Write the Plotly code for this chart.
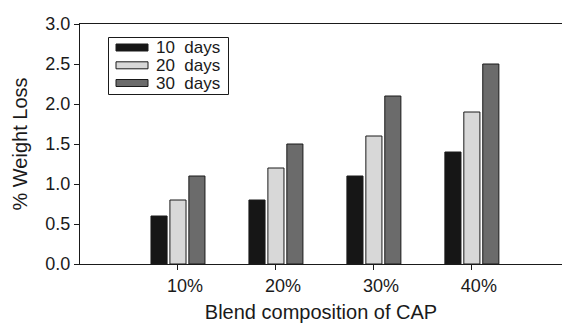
import plotly.graph_objects as go

categories = ["10%", "20%", "30%", "40%"]
series_names = ["10  days", "20  days", "30  days"]
days10 = [0.6, 0.8, 1.1, 1.4]
days20 = [0.8, 1.2, 1.6, 1.9]
days30 = [1.1, 1.5, 2.1, 2.5]
y_ticks = [0.0, 0.5, 1.0, 1.5, 2.0, 2.5, 3.0]

colors = ["#161616", "#d8d8d8", "#6b6b6b"]
xpos = list(range(1, len(categories) + 1))

fig = go.Figure()
for name, vals, col in zip(series_names, [days10, days20, days30], colors):
    fig.add_trace(go.Bar(x=xpos, y=vals, name=name, showlegend=False,
                         marker=dict(color=col, line=dict(color="#1a1a1a", width=1))))

# plot area geometry in pixels (for the hand-made legend)
L, T, W, H = 80, 24, 482, 240
def px(x):
    return (x - L) / W
def py(y):
    return (T + H - y) / H

font = "Liberation Sans, Arial, sans-serif"
shapes = [dict(type="rect", xref="paper", yref="paper",
               x0=px(108.5), x1=px(228.5), y0=py(94.5), y1=py(37.5),
               line=dict(color="#1a1a1a", width=1), fillcolor="white", layer="above")]
annotations = []
row_y = [47.5, 65.3, 83]
for name, col, ry in zip(series_names, colors, row_y):
    shapes.append(dict(type="rect", xref="paper", yref="paper",
                       x0=px(116), x1=px(148), y0=py(ry + 3.5), y1=py(ry - 3.5),
                       line=dict(color="#1a1a1a", width=1), fillcolor=col, layer="above"))
    annotations.append(dict(text=name, xref="paper", yref="paper", x=px(154), y=py(ry + 0.5),
                            xanchor="left", yanchor="middle", showarrow=False,
                            font=dict(size=17, family=font, color="#1a1a1a")))

fig.update_layout(
    width=562, height=323,
    margin=dict(l=80, r=0, t=24, b=59),
    plot_bgcolor="white", paper_bgcolor="white",
    barmode="group", bargap=0.42, bargroupgap=0.15,
    font=dict(family=font, size=17, color="#1a1a1a"),
    showlegend=False,
    shapes=shapes, annotations=annotations,
    xaxis=dict(range=[0, 4.92], tickvals=xpos, ticktext=categories,
               showline=True, linecolor="#1a1a1a", linewidth=1, mirror=True,
               ticks="outside", ticklen=5, tickcolor="#1a1a1a",
               showgrid=False, zeroline=False, ticklabelshift=7,
               tickfont=dict(size=18),
               title=dict(text="Blend composition of CAP", standoff=11)),
    yaxis=dict(range=[0, 3.0], tickvals=y_ticks, tickformat=".1f",
               showline=True, linecolor="#1a1a1a", linewidth=1,
               ticks="outside", ticklen=5, tickcolor="#1a1a1a",
               showgrid=False, zeroline=False, tickfont=dict(size=18),
               title=dict(text="% Weight Loss", standoff=12)),
)
fig.write_html("out.html")
